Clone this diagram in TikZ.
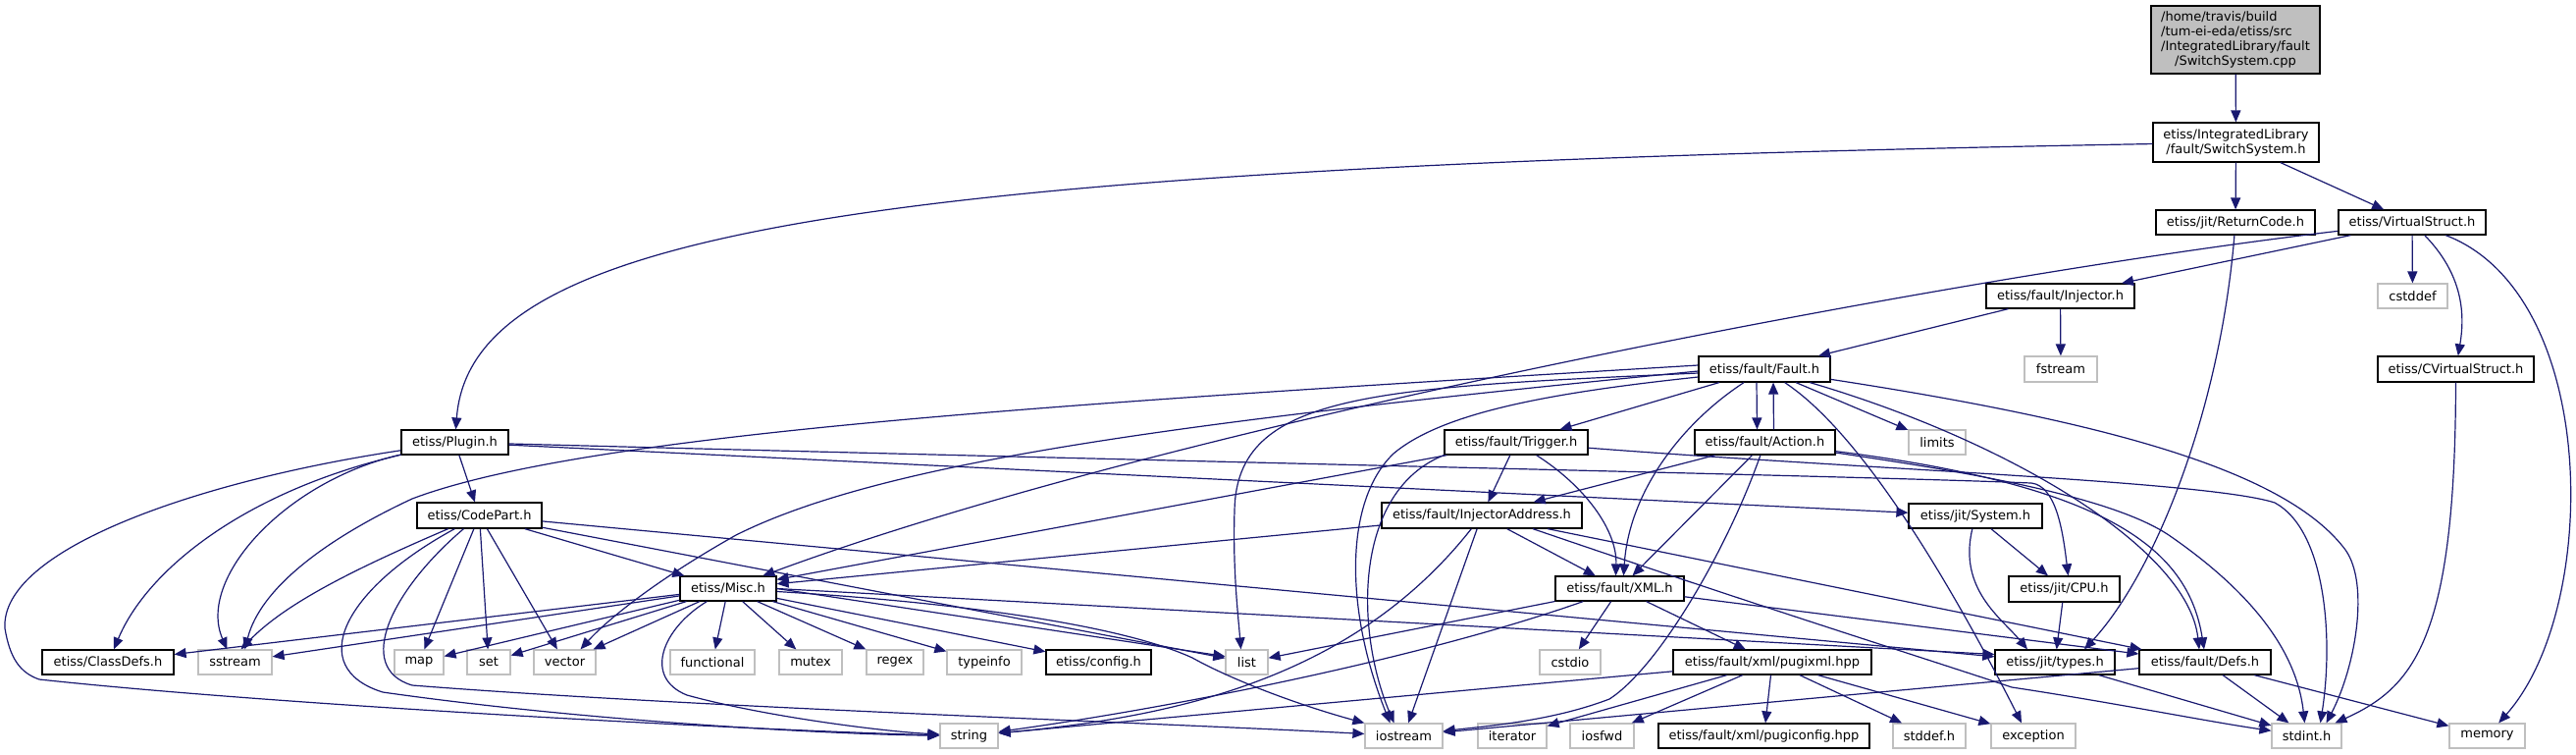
\documentclass[tikz,border=0pt]{standalone}
\usepackage{fontspec}
\setmainfont{DejaVu Sans}
\usetikzlibrary{arrows.meta}
\definecolor{edgec}{RGB}{25,25,112}
\definecolor{lgray}{RGB}{191,191,191}
\begin{document}
\begin{tikzpicture}[x=0.5pt,y=-0.5pt,
  every node/.style={font=\fontsize{6.5}{7.5}\selectfont, inner sep=0pt, minimum height=12.5pt, text=black},
  pbox/.style={draw=black, line width=0.6pt, fill=white},
  sbox/.style={draw=lgray, line width=0.6pt, fill=white},
  edg/.style={draw=edgec, line width=0.6pt, -{Triangle[length=6pt,width=5pt]}}]
\useasboundingbox (0,0) rectangle (2625,768);

% nodes
\node[pbox, fill=lgray, minimum width=86pt, minimum height=34.5pt] (cpp) at (2278,40.5) {\begin{tabular}{@{}l@{}}/home/travis/build\\/tum-ei-eda/etiss/src\\/IntegratedLibrary/fault\\\multicolumn{1}{@{}c@{}}{/SwitchSystem.cpp}\end{tabular}};
\node[pbox, minimum width=84.5pt, minimum height=20pt, align=center] (ssh) at (2278.5,145) {etiss/IntegratedLibrary\\/fault/SwitchSystem.h};
\node[pbox, minimum width=81pt] (ret) at (2278,226.5) {etiss/jit/ReturnCode.h};
\node[pbox, minimum width=75pt] (vs) at (2458,226.5) {etiss/VirtualStruct.h};
\node[pbox, minimum width=75.5pt] (inj) at (2099.5,301.5) {etiss/fault/Injector.h};
\node[sbox, minimum width=35.5pt] (cstddef) at (2458.5,301.5) {cstddef};
\node[pbox, minimum width=67pt, minimum height=13pt] (fault) at (1798,376) {etiss/fault/Fault.h};
\node[sbox, minimum width=37pt, minimum height=13pt] (fstream) at (2100,376) {fstream};
\node[pbox, minimum width=79.5pt, minimum height=13pt] (cvs) at (2502.5,376) {etiss/CVirtualStruct.h};
\node[pbox, minimum width=54.5pt] (plugin) at (463.5,450.5) {etiss/Plugin.h};
\node[pbox, minimum width=73pt] (trigger) at (1545,450.5) {etiss/fault/Trigger.h};
\node[pbox, minimum width=71.5pt] (action) at (1798.5,450.5) {etiss/fault/Action.h};
\node[sbox, minimum width=29pt] (limits) at (1974,450.5) {limits};
\node[pbox, minimum width=63.5pt, minimum height=13pt] (codepart) at (488.5,525) {etiss/CodePart.h};
\node[pbox, minimum width=102pt, minimum height=13pt] (injaddr) at (1510,525) {etiss/fault/InjectorAddress.h};
\node[pbox, minimum width=68pt] (system) at (2013,525.5) {etiss/jit/System.h};
\node[pbox, minimum width=49pt] (misc) at (742,599.5) {etiss/Misc.h};
\node[pbox, minimum width=65.5pt] (xml) at (1650.5,599.5) {etiss/fault/XML.h};
\node[pbox, minimum width=56.5pt, minimum height=13pt] (cpu) at (2103.5,600) {etiss/jit/CPU.h};
\node[pbox, minimum width=67pt] (classdefs) at (110,674.5) {etiss/ClassDefs.h};
\node[sbox, minimum width=37.5pt] (sstream) at (239.5,674.5) {sstream};
\node[sbox, minimum width=25pt] (map) at (427,674.5) {map};
\node[sbox, minimum width=22pt] (set) at (498,674.5) {set};
\node[sbox, minimum width=31.5pt] (vector) at (575.5,674.5) {vector};
\node[sbox, minimum width=43pt] (functional) at (726,674.5) {functional};
\node[sbox, minimum width=32pt] (mutex) at (826,674.5) {mutex};
\node[sbox, minimum width=29pt] (regex) at (912,674.5) {regex};
\node[sbox, minimum width=38pt] (typeinfo) at (1003,674.5) {typeinfo};
\node[pbox, minimum width=53.5pt] (config) at (1119.5,674.5) {etiss/config.h};
\node[sbox, minimum width=21.5pt] (list) at (1270.5,674.5) {list};
\node[sbox, minimum width=31pt] (cstdio) at (1600,674.5) {cstdio};
\node[pbox, minimum width=101pt] (pugixml) at (1806,674.5) {etiss/fault/xml/pugixml.hpp};
\node[pbox, minimum width=61pt] (types) at (2094,674.5) {etiss/jit/types.h};
\node[pbox, minimum width=67pt] (defs) at (2247,674.5) {etiss/fault/Defs.h};
\node[sbox, minimum width=29.5pt] (string) at (987.5,749.5) {string};
\node[sbox, minimum width=39.5pt] (iostream) at (1430.5,749.5) {iostream};
\node[sbox, minimum width=35pt] (iterator) at (1541,749.5) {iterator};
\node[sbox, minimum width=32.5pt] (iosfwd) at (1632.5,749.5) {iosfwd};
\node[pbox, minimum width=107.5pt] (pugiconfig) at (1797.5,749.5) {etiss/fault/xml/pugiconfig.hpp};
\node[sbox, minimum width=37pt] (stddef) at (1966,749.5) {stddef.h};
\node[sbox, minimum width=43pt] (exception) at (2072,749.5) {exception};
\node[sbox, minimum width=35.5pt] (stdint) at (2350.5,749.5) {stdint.h};
\node[sbox, minimum width=38.5pt] (memory) at (2534.5,749.5) {memory};

% edges
\draw[edg] (cpp) -- (ssh);
\draw[edg] (ssh) .. controls (900,170) and (480,230) .. (plugin);
\draw[edg] (ssh) -- (ret);
\draw[edg] (ssh) -- (vs);
\draw[edg] (ret) .. controls (2262,420) and (2195,585) .. ([xshift=15pt]types.north);
\draw[edg] (vs) -- (inj);
\draw[edg] (vs) .. controls (2000,280) and (1200,430) .. (misc);
\draw[edg] (vs) -- (cstddef);
\draw[edg] (vs) .. controls (2510,280) and (2512,320) .. (cvs);
\draw[edg] (vs) .. controls (2650,300) and (2650,620) .. (memory);
\draw[edg] (inj) -- (fault);
\draw[edg] (inj) -- (fstream);
\draw[edg] (cvs) .. controls (2502,650) and (2460,700) .. (stdint);

\draw[edg] (fault) -- (trigger);
\draw[edg] ([xshift=-4pt]fault.south) -- ([xshift=-4pt]action.north);
\draw[edg] ([xshift=4.5pt]action.north) -- ([xshift=4.5pt]fault.south);
\draw[edg] (fault) -- (limits);
\draw[edg] (fault) .. controls (1715,430) and (1660,500) .. ([xshift=2pt]xml.north);
\draw[edg] (fault) .. controls (2050,450) and (2230,560) .. ([xshift=-3pt]defs.north);
\draw[edg] (fault) .. controls (2150,430) and (2330,480) .. (2390,560) .. controls (2415,595) and (2400,680) .. ([xshift=10pt]stdint.north);
\draw[edg] (fault) .. controls (1880,430) and (1960,540) .. ([xshift=-6pt]exception.north);
\draw[edg] ([yshift=-4pt]fault.west) .. controls (1580,400) and (1470,420) .. (1420,462) .. controls (1370,510) and (1370,620) .. ([xshift=-7pt]iostream.north);
\draw[edg] ([yshift=-2pt]fault.west) .. controls (1400,395) and (1260,400) .. (1258,520) .. controls (1256,580) and (1262,630) .. ([xshift=-3pt]list.north);
\draw[edg] ([yshift=2pt]fault.west) .. controls (1100,410) and (600,440) .. (420,508) .. controls (330,550) and (265,600) .. ([xshift=5pt]sstream.north);
\draw[edg] ([yshift=-1pt]fault.west) .. controls (1200,430) and (900,470) .. (750,545) .. controls (670,590) and (620,630) .. ([xshift=8pt]vector.north);

\draw[edg] (action) -- (injaddr);
\draw[edg] (action) -- (xml);
\draw[edg] (action) .. controls (1760,560) and (1690,680) .. (1640,712) .. controls (1580,735) and (1510,740) .. (iostream);
\draw[edg] (action) .. controls (2150,495) and (2230,560) .. ([xshift=-0.5pt]defs.north);
\draw[edg] (action) .. controls (2000,480) and (2150,505) .. (2210,545) .. controls (2290,600) and (2340,660) .. ([xshift=-1pt]stdint.north);

\draw[edg] (trigger) -- (injaddr);
\draw[edg] (trigger) .. controls (1615,495) and (1648,540) .. ([xshift=-2pt]xml.north);
\draw[edg] (trigger) -- (misc);
\draw[edg] (trigger.south west) .. controls (1380,500) and (1380,640) .. ([xshift=-5pt]iostream.north);
\draw[edg] (trigger) .. controls (1900,478) and (2250,490) .. (2318,512) .. controls (2370,540) and (2378,650) .. ([xshift=7pt]stdint.north);

\draw[edg] (injaddr) -- (misc);
\draw[edg] (injaddr) -- (xml);
\draw[edg] (injaddr) -- (iostream);
\draw[edg] (injaddr) .. controls (1380,690) and (1200,730) .. (string);
\draw[edg] (injaddr) -- (defs);
\draw[edg] ([xshift=26pt]injaddr.south) .. controls (1800,620) and (1960,670) .. (2050,700) .. controls (2150,715) and (2250,735) .. (stdint);

\draw[edg] (xml) -- (list);
\draw[edg] (xml) -- (cstdio);
\draw[edg] (xml) -- (pugixml);
\draw[edg] (xml) .. controls (1450,670) and (1200,720) .. (string);
\draw[edg] (xml) -- (defs);

\draw[edg] (plugin) -- (codepart);
\draw[edg] (plugin) .. controls (250,500) and (150,580) .. ([xshift=3pt]classdefs.north);
\draw[edg] (plugin) .. controls (290,490) and (200,590) .. ([xshift=-4pt]sstream.north);
\draw[edg] (plugin) .. controls (200,490) and (0,560) .. (5,640) .. controls (10,670) and (20,685) .. (40,692) .. controls (300,720) and (800,745) .. (string);
\draw[edg] (plugin) -- (system);
\draw[edg] (plugin) .. controls (1200,470) and (1900,485) .. (2070,492) .. controls (2095,495) and (2102,540) .. ([xshift=2pt]cpu.north);

\draw[edg] (codepart) -- (misc);
\draw[edg] (codepart) .. controls (360,580) and (290,615) .. ([xshift=3pt]sstream.north);
\draw[edg] (codepart) -- (map);
\draw[edg] (codepart) -- (set);
\draw[edg] (codepart) -- (vector);
\draw[edg] (codepart) .. controls (350,600) and (310,680) .. (390,705) .. controls (600,735) and (850,748) .. (string);
\draw[edg] (codepart) .. controls (400,600) and (360,680) .. (420,698) .. controls (700,720) and (1150,735) .. (iostream);
\draw[edg] (codepart) -- (list);
\draw[edg] (codepart) -- (types);

\draw[edg] (misc) -- (classdefs);
\draw[edg] (misc) -- (sstream);
\draw[edg] (misc) -- (map);
\draw[edg] (misc) -- (set);
\draw[edg] (misc) -- (vector);
\draw[edg] (misc) -- (functional);
\draw[edg] (misc) -- (mutex);
\draw[edg] (misc) -- (regex);
\draw[edg] (misc) -- (typeinfo);
\draw[edg] (misc) -- (config);
\draw[edg] (misc.east) -- ([yshift=3pt]list.west);
\draw[edg] (misc) .. controls (1000,615) and (1150,640) .. (1215,670) .. controls (1260,695) and (1330,720) .. (iostream.north west);
\draw[edg] (misc) .. controls (675,640) and (655,690) .. (700,708) .. controls (780,730) and (900,745) .. (string);
\draw[edg] (misc.east) -- ([yshift=4pt]types.west);

\draw[edg] (system) -- (cpu);
\draw[edg] (system) .. controls (1995,600) and (2040,630) .. ([xshift=-14pt]types.north);
\draw[edg] (cpu) -- (types);
\draw[edg] (types) -- (stdint);
\draw[edg] (defs) -- (stdint);
\draw[edg] (defs) -- (memory);
\draw[edg] (defs) -- (iostream);
\draw[edg] (pugixml) -- (string);
\draw[edg] (pugixml) -- (iterator);
\draw[edg] (pugixml) -- (iosfwd);
\draw[edg] (pugixml) -- (pugiconfig);
\draw[edg] (pugixml) -- (stddef);
\draw[edg] (pugixml) -- (exception);
\end{tikzpicture}
\end{document}
